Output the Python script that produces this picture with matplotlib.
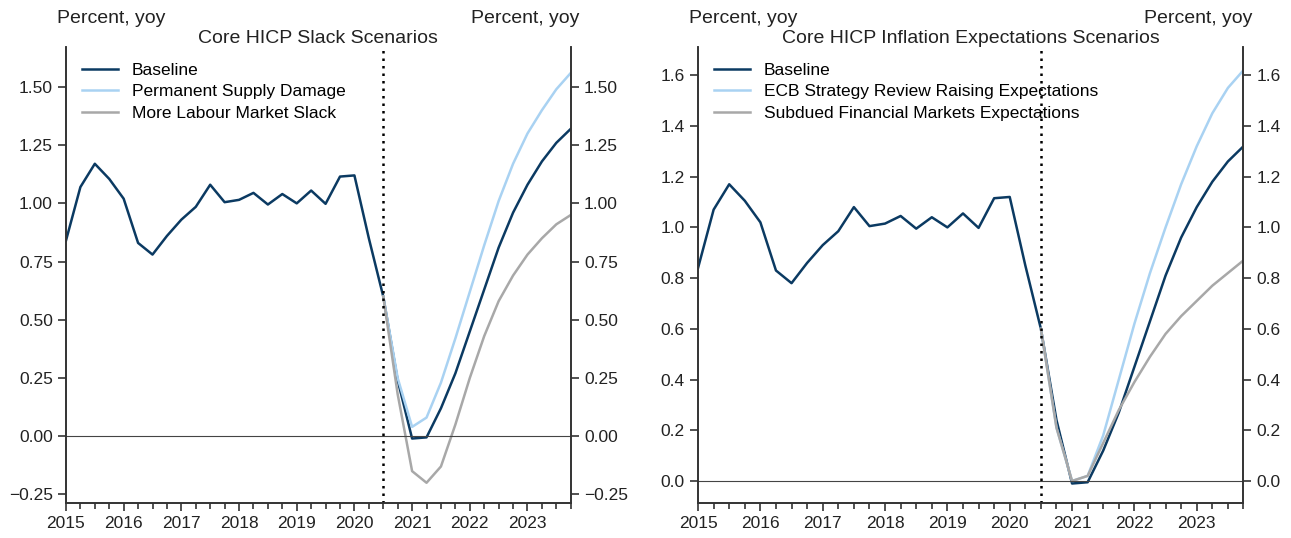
import numpy as np
import matplotlib.pyplot as plt

plt.rcParams['font.family'] = ['Liberation Sans', 'DejaVu Sans']

# quarterly dates, 2015Q1 .. 2023Q4
quarters = np.arange(2015, 2024, 0.25)

baseline = [0.84, 1.07, 1.17, 1.105, 1.02, 0.83, 0.78, 0.86, 0.93, 0.985,
            1.08, 1.005, 1.015, 1.045, 0.995, 1.04, 1.00, 1.055, 0.998, 1.115,
            1.12, 0.85, 0.60, 0.24, -0.01, -0.005, 0.12, 0.27, 0.45, 0.63,
            0.81, 0.96, 1.08, 1.18, 1.26, 1.32]

# scenarios start at the last observed quarter (2020Q3)
scen_start = 22
supply_damage = [0.60, 0.25, 0.04, 0.08, 0.23, 0.42, 0.62, 0.82, 1.01,
                 1.17, 1.30, 1.40, 1.49, 1.56]
labour_slack = [0.60, 0.18, -0.15, -0.20, -0.13, 0.05, 0.25, 0.43, 0.58,
                0.69, 0.78, 0.85, 0.91, 0.95]
ecb_review = [0.60, 0.21, 0.00, 0.02, 0.18, 0.40, 0.62, 0.82, 1.00,
              1.17, 1.32, 1.45, 1.55, 1.62]
subdued_mkt = [0.60, 0.21, 0.00, 0.02, 0.15, 0.28, 0.39, 0.49, 0.58,
               0.65, 0.71, 0.77, 0.82, 0.87]

navy = '#0b3a62'
light = '#a9d2f2'
grey = '#a8a8a8'
txt = '#222222'
fs = 12.5

fig = plt.figure(figsize=(12.91, 5.38), dpi=100)
ax1 = fig.add_axes([0.0511, 0.065, 0.391, 0.847])
ax2 = fig.add_axes([0.5407, 0.065, 0.4225, 0.847])


def style_axis(a):
    a.spines['top'].set_visible(False)
    for s in a.spines.values():
        s.set_color('#333333')
        s.set_linewidth(1.2)


def panel(ax, title, s1, l1, s2, l2, ylim, yticks, fmt):
    ax.plot(quarters, baseline, color=navy, lw=1.8, label='Baseline')
    xs = quarters[scen_start:]
    ax.plot(xs, s1, color=light, lw=1.8, label=l1)
    ax.plot(xs, s2, color=grey, lw=1.8, label=l2)
    ax.axhline(0, color='#444444', lw=0.8)
    ax.axvline(2020.5, color='black', lw=1.8, ls=(0, (1, 2)))
    ax.set_xlim(2015, 2023.75)
    ax.set_ylim(*ylim)
    ax.set_xticks(range(2015, 2024))
    ax.set_xticks(quarters, minor=True)
    labels = [fmt.format(v).replace('-', '\u2212') for v in yticks]
    ax.set_yticks(yticks)
    ax.set_yticklabels(labels)
    style_axis(ax)
    ax.tick_params(which='both', direction='out', color='#333333',
                   labelsize=fs, labelcolor=txt, width=1.2)
    ax.tick_params(which='major', length=6)
    ax.tick_params(which='minor', length=4)
    tw = ax.twinx()
    tw.set_ylim(*ylim)
    tw.set_yticks(yticks)
    tw.set_yticklabels(labels)
    style_axis(tw)
    tw.tick_params(direction='out', length=6, width=1.2, color='#333333',
                   labelsize=fs, labelcolor=txt)
    ax.set_title(title, fontsize=14, color=txt, pad=-1)
    ax.annotate('Percent, yoy', (0, 1), xycoords='axes fraction',
                xytext=(-9, 29), textcoords='offset pixels',
                ha='left', va='center', fontsize=14, color=txt)
    ax.annotate('Percent, yoy', (1, 1), xycoords='axes fraction',
                xytext=(9, 29), textcoords='offset pixels',
                ha='right', va='center', fontsize=14, color=txt)
    ax.legend(loc='upper left', frameon=False, fontsize=fs,
              handlelength=2.1, labelspacing=0.35, borderaxespad=0.5,
              bbox_to_anchor=(0.0, 1.0))


panel(ax1, 'Core HICP Slack Scenarios',
      supply_damage, 'Permanent Supply Damage',
      labour_slack, 'More Labour Market Slack',
      (-0.287, 1.67), [-0.25, 0, 0.25, 0.5, 0.75, 1.0, 1.25, 1.5], '{:.2f}')
panel(ax2, 'Core HICP Inflation Expectations Scenarios',
      ecb_review, 'ECB Strategy Review Raising Expectations',
      subdued_mkt, 'Subdued Financial Markets Expectations',
      (-0.087, 1.71), [0, 0.2, 0.4, 0.6, 0.8, 1.0, 1.2, 1.4, 1.6], '{:.1f}')

fig.savefig('out.png', dpi=100)
